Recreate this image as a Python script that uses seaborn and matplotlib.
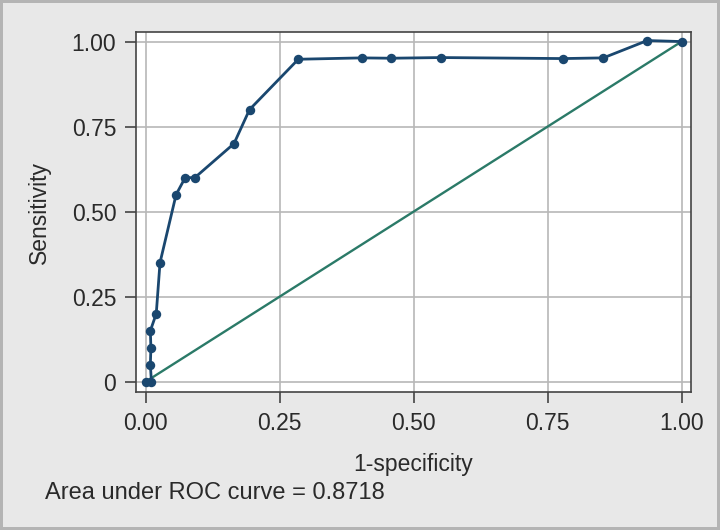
import seaborn as sns
import matplotlib.pyplot as plt
import pandas as pd

# Puntos de la curva ROC (1-especificidad, sensibilidad)
fpr = [0.0, 0.011, 0.009, 0.010, 0.009, 0.020, 0.027, 0.057, 0.074, 0.092,
       0.165, 0.194, 0.285, 0.403, 0.458, 0.551, 0.779, 0.854, 0.936, 1.0]
tpr = [0.0, 0.0, 0.05, 0.10, 0.15, 0.20, 0.35, 0.55, 0.60, 0.60,
       0.70, 0.80, 0.948, 0.952, 0.951, 0.953, 0.950, 0.952, 1.003, 1.0]

# Linea de referencia
diag_x = [0.0, 1.0]
diag_y = [0.0, 1.0]

ticks_x = [0.0, 0.25, 0.5, 0.75, 1.0]
labels_x = ['0.00', '0.25', '0.50', '0.75', '1.00']
ticks_y = [0.0, 0.25, 0.5, 0.75, 1.0]
labels_y = ['0', '0.25', '0.50', '0.75', '1.00']

auc_text = 'Area under ROC curve = 0.8718'

df = pd.DataFrame({'fpr': fpr, 'tpr': tpr})
df_diag = pd.DataFrame({'x': diag_x, 'y': diag_y})

sns.set_style('white')
plt.rcParams['font.family'] = ['Liberation Sans', 'DejaVu Sans']

fig = plt.figure(figsize=(7.2, 5.3), dpi=100)
fig.patch.set_facecolor('#e8e8e8')
fig.patch.set_edgecolor('#b4b4b4')
fig.patch.set_linewidth(3)
ax = fig.add_axes([0.1885, 0.2598, 0.7708, 0.6804])
ax.set_facecolor('white')

# Curva ROC
sns.lineplot(data=df, x='fpr', y='tpr', sort=False, estimator=None,
             color='#1a476f', linewidth=2.0, marker='o', markersize=6.8,
             markeredgewidth=0, ax=ax, zorder=4)

# Diagonal
sns.lineplot(data=df_diag, x='x', y='y', sort=False, estimator=None,
             color='#2b7a68', linewidth=1.7, ax=ax, zorder=3)

ax.set_xlim(-0.0183, 1.017)
ax.set_ylim(-0.031, 1.029)
ax.set_xticks(ticks_x)
ax.set_xticklabels(labels_x)
ax.set_yticks(ticks_y)
ax.set_yticklabels(labels_y)
ax.grid(True, color='#b8b8b8', linewidth=1.2)
ax.set_axisbelow(True)

for sp in ax.spines.values():
    sp.set_color('#444444')
    sp.set_linewidth(1.2)

ax.tick_params(axis='both', direction='out', length=8, width=1.2,
               color='#444444', labelsize=16.5, labelcolor='#2a2a2a', pad=6,
               left=True, bottom=True)

ax.set_xlabel('1-specificity', fontsize=16.5, color='#2a2a2a', labelpad=13)
ax.set_ylabel('Sensitivity', fontsize=16.5, color='#2a2a2a', labelpad=15)

fig.text(45 / 720, 1 - 493 / 530, auc_text, fontsize=17, color='#2a2a2a',
         ha='left', va='center')

plt.savefig('out.png', dpi=100, facecolor=fig.get_facecolor(),
            edgecolor=fig.get_edgecolor())
plt.close()
